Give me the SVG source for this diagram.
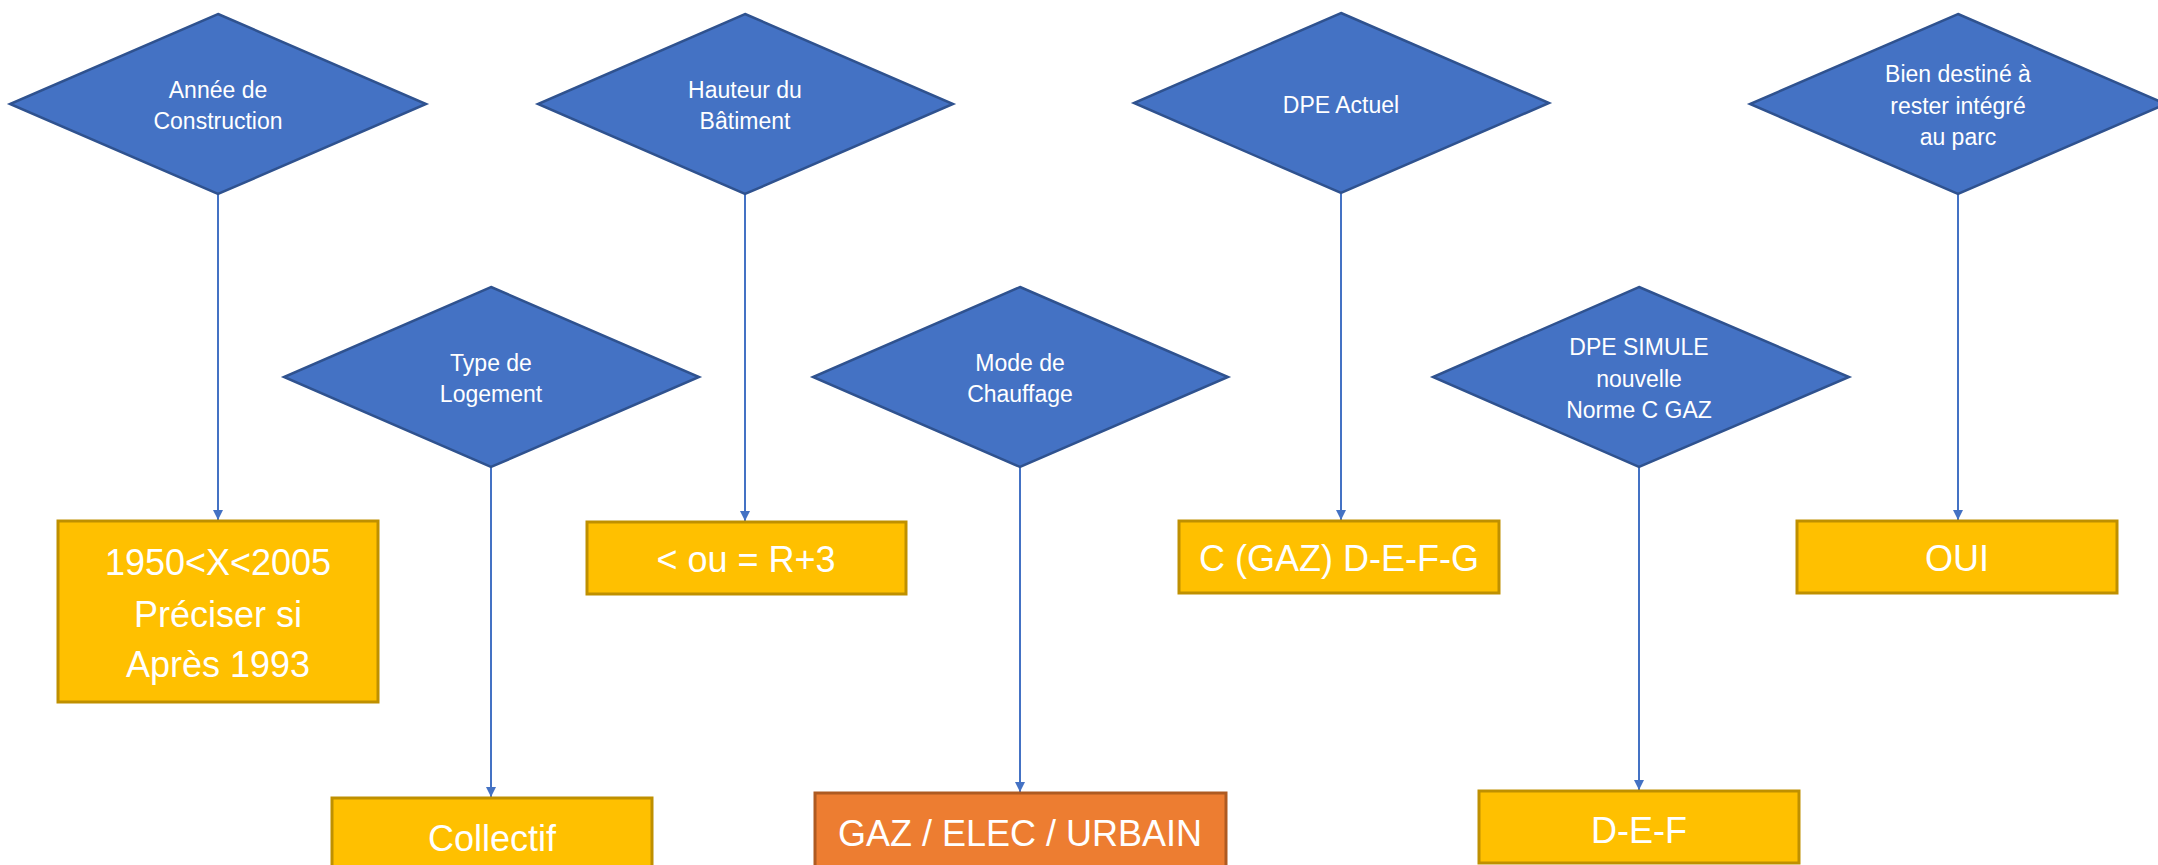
<svg xmlns="http://www.w3.org/2000/svg" width="2158" height="865" viewBox="0 0 2158 865">
<defs>
<style>
.dia{fill:#4472C4;stroke:#2F528F;stroke-width:2.5}
.box{fill:#FFC000;stroke:#BF9000;stroke-width:3}
.obox{fill:#ED7D31;stroke:#AE5A21;stroke-width:3}
.dt{font-family:"Liberation Sans",Arial,sans-serif;font-size:23px;fill:#fff;text-anchor:middle}
.bt{font-family:"Liberation Sans",Arial,sans-serif;font-size:36px;fill:#fff;text-anchor:middle}
.con{stroke:#4472C4;stroke-width:2;fill:none;marker-end:url(#arr)}
</style>
<marker id="arr" viewBox="0 0 10 14" refX="10" refY="7" markerWidth="10" markerHeight="14" markerUnits="userSpaceOnUse" orient="auto">
<path d="M0,2 L10,7 L0,12 z" fill="#4472C4"/>
</marker>
</defs>
<rect width="2158" height="865" fill="#fff"/>
<g id="connectors">
<line class="con" x1="218" y1="194" x2="218" y2="520"/>
<line class="con" x1="745" y1="194" x2="745" y2="521"/>
<line class="con" x1="1341" y1="194" x2="1341" y2="520"/>
<line class="con" x1="1958" y1="194" x2="1958" y2="520"/>
<line class="con" x1="491" y1="467" x2="491" y2="797"/>
<line class="con" x1="1020" y1="467" x2="1020" y2="792"/>
<line class="con" x1="1639" y1="467" x2="1639" y2="790"/>
</g>
<g id="d-annee">
<polygon class="dia" points="218,14 426,104 218,194 10,104"/>
<text class="dt" x="218" y="98">Année de</text>
<text class="dt" x="218" y="129">Construction</text>
</g>
<g id="d-hauteur">
<polygon class="dia" points="745,14 953,104 745,194 538,104"/>
<text class="dt" x="745" y="98">Hauteur du</text>
<text class="dt" x="745" y="129">Bâtiment</text>
</g>
<g id="d-dpe">
<polygon class="dia" points="1341,13 1549,103 1341,193 1134,103"/>
<text class="dt" x="1341" y="113">DPE Actuel</text>
</g>
<g id="d-bien">
<polygon class="dia" points="1958,14 2166,104 1958,194 1750,104"/>
<text class="dt" x="1958" y="82">Bien destiné à</text>
<text class="dt" x="1958" y="114">rester intégré</text>
<text class="dt" x="1958" y="145">au parc</text>
</g>
<g id="d-type">
<polygon class="dia" points="491,287 699,377 491,467 284,377"/>
<text class="dt" x="491" y="371">Type de</text>
<text class="dt" x="491" y="402">Logement</text>
</g>
<g id="d-mode">
<polygon class="dia" points="1020,287 1228,377 1020,467 813,377"/>
<text class="dt" x="1020" y="371">Mode de</text>
<text class="dt" x="1020" y="402">Chauffage</text>
</g>
<g id="d-simule">
<polygon class="dia" points="1639,287 1849,377 1639,467 1433,377"/>
<text class="dt" x="1639" y="355">DPE SIMULE</text>
<text class="dt" x="1639" y="387">nouvelle</text>
<text class="dt" x="1639" y="418">Norme C GAZ</text>
</g>
<g id="b-annee">
<rect class="box" x="58" y="521" width="320" height="181"/>
<text class="bt" x="218" y="575">1950&lt;X&lt;2005</text>
<text class="bt" x="218" y="627">Préciser si</text>
<text class="bt" x="218" y="677">Après 1993</text>
</g>
<g id="b-hauteur">
<rect class="box" x="587" y="522" width="319" height="72"/>
<text class="bt" x="746" y="572">&lt; ou = R+3</text>
</g>
<g id="b-dpe">
<rect class="box" x="1179" y="521" width="320" height="72"/>
<text class="bt" x="1339" y="571">C (GAZ) D-E-F-G</text>
</g>
<g id="b-oui">
<rect class="box" x="1797" y="521" width="320" height="72"/>
<text class="bt" x="1957" y="571">OUI</text>
</g>
<g id="b-collectif">
<rect class="box" x="332" y="798" width="320" height="80"/>
<text class="bt" x="492" y="851">Collectif</text>
</g>
<g id="b-chauffage">
<rect class="obox" x="815" y="793" width="411" height="85"/>
<text class="bt" x="1020" y="846">GAZ / ELEC / URBAIN</text>
</g>
<g id="b-simule">
<rect class="box" x="1479" y="791" width="320" height="72"/>
<text class="bt" x="1639" y="843">D-E-F</text>
</g>
</svg>
